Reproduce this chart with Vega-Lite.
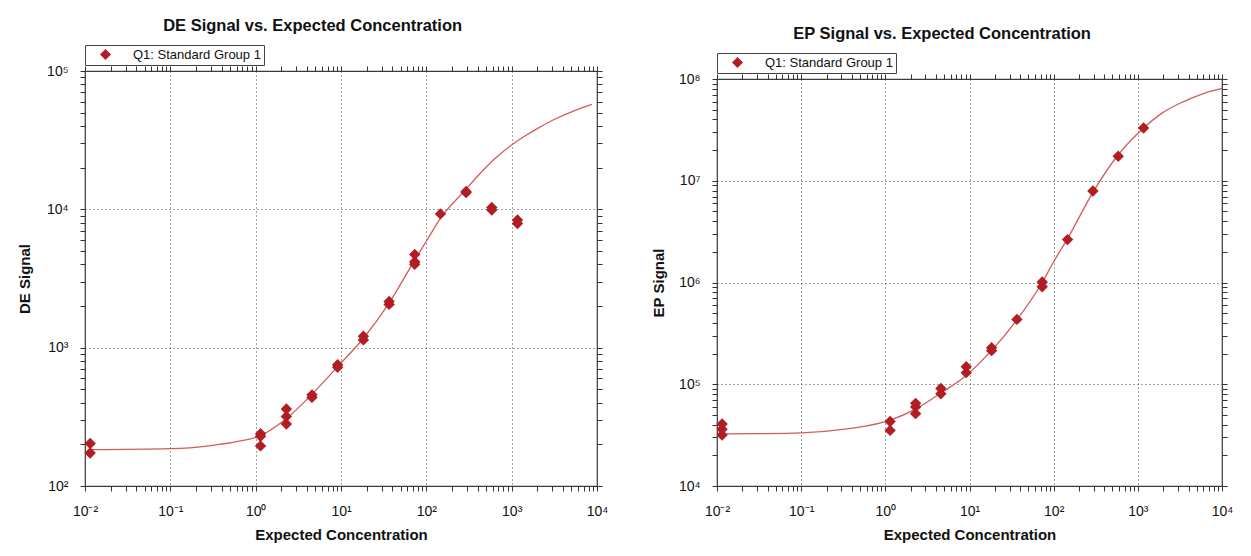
{
  "$schema": "https://vega.github.io/schema/vega-lite/v6.json",
  "background": "white",
  "padding": {"left": 16, "top": 5, "right": 0, "bottom": 0},
  "autosize": {"type": "pad"},
  "config": {
    "font": "Liberation Sans",
    "view": {"stroke": "#3a3a3a", "strokeWidth": 1.2},
    "axis": {
      "labelFont": "Liberation Sans", "labelFontSize": 14, "labelColor": "#111",
      "titleFont": "Liberation Sans", "titleFontSize": 15, "titleFontWeight": "bold", "titleColor": "#111",
      "domain": false, "tickColor": "#333", "tickWidth": 1, "tickSize": 5,
      "labelOverlap": false, "labelBound": false, "labelFlush": false,
      "gridDash": [1, 3], "gridColor": "#444", "gridWidth": 1
    },
    "legend": {
      "orient": "none", "legendX": 0, "legendY": -26, "direction": "horizontal",
      "strokeColor": "#444", "fillColor": "white", "padding": 3,
      "symbolOffset": 11, "labelOffset": 21, "labelFontSize": 13, "labelFont": "Liberation Sans",
      "labelColor": "#111", "symbolSize": 120, "symbolType": "diamond", "symbolStrokeWidth": 0
    },
    "title": {"font": "Liberation Sans", "fontSize": 16.5, "fontWeight": "bold", "color": "#111", "anchor": "middle", "frame": "bounds", "offset": 10}
  },
  "datasets": {
    "de_pts": [
      {"conc": 0.0115, "signal": 203, "group": "Q1: Standard Group 1"},
      {"conc": 0.0115, "signal": 173, "group": "Q1: Standard Group 1"},
      {"conc": 1.14, "signal": 239, "group": "Q1: Standard Group 1"},
      {"conc": 1.14, "signal": 229, "group": "Q1: Standard Group 1"},
      {"conc": 1.14, "signal": 195, "group": "Q1: Standard Group 1"},
      {"conc": 2.29, "signal": 360, "group": "Q1: Standard Group 1"},
      {"conc": 2.29, "signal": 318, "group": "Q1: Standard Group 1"},
      {"conc": 2.29, "signal": 281, "group": "Q1: Standard Group 1"},
      {"conc": 4.57, "signal": 456, "group": "Q1: Standard Group 1"},
      {"conc": 4.57, "signal": 437, "group": "Q1: Standard Group 1"},
      {"conc": 9.14, "signal": 753, "group": "Q1: Standard Group 1"},
      {"conc": 9.14, "signal": 722, "group": "Q1: Standard Group 1"},
      {"conc": 18.3, "signal": 1208, "group": "Q1: Standard Group 1"},
      {"conc": 18.3, "signal": 1138, "group": "Q1: Standard Group 1"},
      {"conc": 36.6, "signal": 2154, "group": "Q1: Standard Group 1"},
      {"conc": 36.6, "signal": 2055, "group": "Q1: Standard Group 1"},
      {"conc": 73.1, "signal": 4724, "group": "Q1: Standard Group 1"},
      {"conc": 73.1, "signal": 4175, "group": "Q1: Standard Group 1"},
      {"conc": 73.1, "signal": 4006, "group": "Q1: Standard Group 1"},
      {"conc": 146.3, "signal": 9265, "group": "Q1: Standard Group 1"},
      {"conc": 292.5, "signal": 13440, "group": "Q1: Standard Group 1"},
      {"conc": 292.5, "signal": 13200, "group": "Q1: Standard Group 1"},
      {"conc": 585, "signal": 10300, "group": "Q1: Standard Group 1"},
      {"conc": 585, "signal": 9880, "group": "Q1: Standard Group 1"},
      {"conc": 1170, "signal": 8380, "group": "Q1: Standard Group 1"},
      {"conc": 1170, "signal": 7890, "group": "Q1: Standard Group 1"}
    ],
    "de_fit": [
      {"conc": 0.0115, "signal": 183},
      {"conc": 0.1, "signal": 186},
      {"conc": 0.3, "signal": 196},
      {"conc": 0.6, "signal": 209},
      {"conc": 1.14, "signal": 231},
      {"conc": 2.29, "signal": 307},
      {"conc": 4.57, "signal": 460},
      {"conc": 9.14, "signal": 730},
      {"conc": 18.3, "signal": 1170},
      {"conc": 36.6, "signal": 2100},
      {"conc": 73.1, "signal": 4300},
      {"conc": 100, "signal": 5880},
      {"conc": 146.3, "signal": 8600},
      {"conc": 292.5, "signal": 14000},
      {"conc": 410, "signal": 17700},
      {"conc": 643, "signal": 23400},
      {"conc": 1000, "signal": 29200},
      {"conc": 1445, "signal": 34000},
      {"conc": 2070, "signal": 38800},
      {"conc": 3240, "signal": 45000},
      {"conc": 5560, "signal": 52000},
      {"conc": 8710, "signal": 57400}
    ],
    "ep_pts": [
      {"conc": 0.0115, "signal": 40700, "group": "Q1: Standard Group 1"},
      {"conc": 0.0115, "signal": 36100, "group": "Q1: Standard Group 1"},
      {"conc": 0.0115, "signal": 31700, "group": "Q1: Standard Group 1"},
      {"conc": 1.14, "signal": 43100, "group": "Q1: Standard Group 1"},
      {"conc": 1.14, "signal": 35200, "group": "Q1: Standard Group 1"},
      {"conc": 2.29, "signal": 64900, "group": "Q1: Standard Group 1"},
      {"conc": 2.29, "signal": 59900, "group": "Q1: Standard Group 1"},
      {"conc": 2.29, "signal": 51400, "group": "Q1: Standard Group 1"},
      {"conc": 4.57, "signal": 90800, "group": "Q1: Standard Group 1"},
      {"conc": 4.57, "signal": 80500, "group": "Q1: Standard Group 1"},
      {"conc": 9.14, "signal": 149000, "group": "Q1: Standard Group 1"},
      {"conc": 9.14, "signal": 130000, "group": "Q1: Standard Group 1"},
      {"conc": 18.3, "signal": 229000, "group": "Q1: Standard Group 1"},
      {"conc": 18.3, "signal": 214000, "group": "Q1: Standard Group 1"},
      {"conc": 36.6, "signal": 434000, "group": "Q1: Standard Group 1"},
      {"conc": 73.1, "signal": 1010000, "group": "Q1: Standard Group 1"},
      {"conc": 73.1, "signal": 908000, "group": "Q1: Standard Group 1"},
      {"conc": 146.3, "signal": 2640000, "group": "Q1: Standard Group 1"},
      {"conc": 292.5, "signal": 7920000, "group": "Q1: Standard Group 1"},
      {"conc": 585, "signal": 17400000, "group": "Q1: Standard Group 1"},
      {"conc": 1170, "signal": 33000000, "group": "Q1: Standard Group 1"}
    ],
    "ep_fit": [
      {"conc": 0.0115, "signal": 32500},
      {"conc": 0.03, "signal": 32700},
      {"conc": 0.1, "signal": 33300},
      {"conc": 0.37, "signal": 36600},
      {"conc": 0.6, "signal": 39000},
      {"conc": 1.14, "signal": 44500},
      {"conc": 2.29, "signal": 57000},
      {"conc": 4.57, "signal": 82000},
      {"conc": 9.14, "signal": 122000},
      {"conc": 18.3, "signal": 215000},
      {"conc": 36.6, "signal": 430000},
      {"conc": 73.1, "signal": 1000000},
      {"conc": 100, "signal": 1600000},
      {"conc": 146.3, "signal": 2700000},
      {"conc": 292.5, "signal": 7700000},
      {"conc": 585, "signal": 18000000},
      {"conc": 1170, "signal": 33000000},
      {"conc": 2000, "signal": 47000000},
      {"conc": 3500, "signal": 60000000},
      {"conc": 6000, "signal": 72000000},
      {"conc": 10000, "signal": 81000000}
    ]
  },
  "resolve": {"scale": {"x": "independent", "y": "independent", "color": "independent"}, "legend": {"color": "independent"}},
  "spacing": 41,
  "hconcat": [
    {
      "resolve": {"scale": {"x": "independent", "y": "independent", "color": "independent"}, "legend": {"color": "independent"}},
      "spacing": 0,
      "vconcat": [
        {"width": 1, "height": 1, "view": {"stroke": null}, "data": {"values": [{}]}, "mark": {"type": "text", "text": ""}},
        {
          "width": 512,
          "height": 415,
          "title": {"text": "DE Signal vs. Expected Concentration"},
          "resolve": {"axis": {"x": "independent", "y": "independent"}},
          "layer": [
            {
              "data": {"name": "de_fit"},
              "mark": {"type": "line", "color": "#D65A5A", "strokeWidth": 1.3, "interpolate": "monotone"},
              "encoding": {
                "x": {"field": "conc", "type": "quantitative", "scale": {"type": "log", "domain": [0.01, 10000]},
                      "axis": {"orient": "top", "labels": false, "grid": false, "title": null,
                               "encode": {"ticks": {"update": {"y": [{"test": "abs(log(datum.value)/LN10 - round(log(datum.value)/LN10)) < 0.01", "value": -3}, {"value": 0}], "y2": [{"test": "abs(log(datum.value)/LN10 - round(log(datum.value)/LN10)) < 0.01", "value": 6}, {"value": 4}]}}},
                               "values": [0.01,0.02,0.03,0.04,0.05,0.06,0.07,0.08,0.09,0.1,0.2,0.3,0.4,0.5,0.6,0.7,0.8,0.9,1,2,3,4,5,6,7,8,9,10,20,30,40,50,60,70,80,90,100,200,300,400,500,600,700,800,900,1000,2000,3000,4000,5000,6000,7000,8000,9000,10000]}},
                "y": {"field": "signal", "type": "quantitative", "scale": {"type": "log", "domain": [100, 100000]},
                      "axis": {"orient": "right", "labels": false, "grid": false, "title": null,
                               "encode": {"ticks": {"update": {"x": [{"test": "abs(log(datum.value)/LN10 - round(log(datum.value)/LN10)) < 0.01", "value": 3}, {"value": 0}], "x2": [{"test": "abs(log(datum.value)/LN10 - round(log(datum.value)/LN10)) < 0.01", "value": -6}, {"value": -4}]}}},
                               "values": [100,200,300,400,500,600,700,800,900,1000,2000,3000,4000,5000,6000,7000,8000,9000,10000,20000,30000,40000,50000,60000,70000,80000,90000,100000]}}
              }
            },
            {
              "data": {"name": "de_pts"},
              "mark": {"type": "point", "shape": "diamond", "filled": true, "size": 130, "opacity": 1},
              "encoding": {
                "x": {"field": "conc", "type": "quantitative", "scale": {"type": "log", "domain": [0.01, 10000]},
                      "axis": {"orient": "bottom", "title": "Expected Concentration", "titlePadding": 9, "labelPadding": 13, "grid": true,
                               "gridOpacity": {"condition": {"test": "abs(log(datum.value)/LN10 - round(log(datum.value)/LN10)) < 0.01", "value": 1}, "value": 0},
                               "encode": {"ticks": {"update": {"y": [{"test": "abs(log(datum.value)/LN10 - round(log(datum.value)/LN10)) < 0.01", "value": 3}, {"value": 0}], "y2": [{"test": "abs(log(datum.value)/LN10 - round(log(datum.value)/LN10)) < 0.01", "value": -6}, {"value": -4}]}}},
                               "labelExpr": "abs(log(datum.value)/LN10 - round(log(datum.value)/LN10)) < 0.01 ? '10' + (round(log(datum.value)/LN10) < 0 ? '⁻' : '') + ['⁰','¹','²','³','⁴','⁵','⁶','⁷','⁸','⁹'][abs(round(log(datum.value)/LN10))] : ''",
                               "values": [0.01,0.02,0.03,0.04,0.05,0.06,0.07,0.08,0.09,0.1,0.2,0.3,0.4,0.5,0.6,0.7,0.8,0.9,1,2,3,4,5,6,7,8,9,10,20,30,40,50,60,70,80,90,100,200,300,400,500,600,700,800,900,1000,2000,3000,4000,5000,6000,7000,8000,9000,10000]}},
                "y": {"field": "signal", "type": "quantitative", "scale": {"type": "log", "domain": [100, 100000]},
                      "axis": {"orient": "left", "title": "DE Signal", "titlePadding": 14, "labelPadding": 12, "grid": true,
                               "gridOpacity": {"condition": {"test": "abs(log(datum.value)/LN10 - round(log(datum.value)/LN10)) < 0.01", "value": 1}, "value": 0},
                               "encode": {"ticks": {"update": {"x": [{"test": "abs(log(datum.value)/LN10 - round(log(datum.value)/LN10)) < 0.01", "value": -3}, {"value": 0}], "x2": [{"test": "abs(log(datum.value)/LN10 - round(log(datum.value)/LN10)) < 0.01", "value": 6}, {"value": 4}]}}},
                               "labelExpr": "abs(log(datum.value)/LN10 - round(log(datum.value)/LN10)) < 0.01 ? '10' + (round(log(datum.value)/LN10) < 0 ? '⁻' : '') + ['⁰','¹','²','³','⁴','⁵','⁶','⁷','⁸','⁹'][abs(round(log(datum.value)/LN10))] : ''",
                               "values": [100,200,300,400,500,600,700,800,900,1000,2000,3000,4000,5000,6000,7000,8000,9000,10000,20000,30000,40000,50000,60000,70000,80000,90000,100000]}},
                "color": {"field": "group", "type": "nominal", "scale": {"range": ["#B01E24"]}, "legend": {"title": null}}
              }
            }
          ]
        }
      ]
    },
    {
      "resolve": {"scale": {"x": "independent", "y": "independent", "color": "independent"}, "legend": {"color": "independent"}},
      "spacing": 0,
      "vconcat": [
        {"width": 1, "height": 14, "view": {"stroke": null}, "data": {"values": [{}]}, "mark": {"type": "text", "text": ""}},
        {
          "width": 505,
          "height": 407,
          "title": {"text": "EP Signal vs. Expected Concentration"},
          "resolve": {"axis": {"x": "independent", "y": "independent"}},
          "layer": [
            {
              "data": {"name": "ep_fit"},
              "mark": {"type": "line", "color": "#D65A5A", "strokeWidth": 1.3, "interpolate": "monotone"},
              "encoding": {
                "x": {"field": "conc", "type": "quantitative", "scale": {"type": "log", "domain": [0.01, 10000]},
                      "axis": {"orient": "top", "labels": false, "grid": false, "title": null,
                               "encode": {"ticks": {"update": {"y": [{"test": "abs(log(datum.value)/LN10 - round(log(datum.value)/LN10)) < 0.01", "value": -3}, {"value": 0}], "y2": [{"test": "abs(log(datum.value)/LN10 - round(log(datum.value)/LN10)) < 0.01", "value": 6}, {"value": 4}]}}},
                               "values": [0.01,0.02,0.03,0.04,0.05,0.06,0.07,0.08,0.09,0.1,0.2,0.3,0.4,0.5,0.6,0.7,0.8,0.9,1,2,3,4,5,6,7,8,9,10,20,30,40,50,60,70,80,90,100,200,300,400,500,600,700,800,900,1000,2000,3000,4000,5000,6000,7000,8000,9000,10000]}},
                "y": {"field": "signal", "type": "quantitative", "scale": {"type": "log", "domain": [10000, 100000000]},
                      "axis": {"orient": "right", "labels": false, "grid": false, "title": null,
                               "encode": {"ticks": {"update": {"x": [{"test": "abs(log(datum.value)/LN10 - round(log(datum.value)/LN10)) < 0.01", "value": 3}, {"value": 0}], "x2": [{"test": "abs(log(datum.value)/LN10 - round(log(datum.value)/LN10)) < 0.01", "value": -6}, {"value": -4}]}}},
                               "values": [10000,20000,30000,40000,50000,60000,70000,80000,90000,100000,200000,300000,400000,500000,600000,700000,800000,900000,1000000,2000000,3000000,4000000,5000000,6000000,7000000,8000000,9000000,10000000,20000000,30000000,40000000,50000000,60000000,70000000,80000000,90000000,100000000]}}
              }
            },
            {
              "data": {"name": "ep_pts"},
              "mark": {"type": "point", "shape": "diamond", "filled": true, "size": 130, "opacity": 1},
              "encoding": {
                "x": {"field": "conc", "type": "quantitative", "scale": {"type": "log", "domain": [0.01, 10000]},
                      "axis": {"orient": "bottom", "title": "Expected Concentration", "titlePadding": 9, "labelPadding": 13, "grid": true,
                               "gridOpacity": {"condition": {"test": "abs(log(datum.value)/LN10 - round(log(datum.value)/LN10)) < 0.01", "value": 1}, "value": 0},
                               "encode": {"ticks": {"update": {"y": [{"test": "abs(log(datum.value)/LN10 - round(log(datum.value)/LN10)) < 0.01", "value": 3}, {"value": 0}], "y2": [{"test": "abs(log(datum.value)/LN10 - round(log(datum.value)/LN10)) < 0.01", "value": -6}, {"value": -4}]}}},
                               "labelExpr": "abs(log(datum.value)/LN10 - round(log(datum.value)/LN10)) < 0.01 ? '10' + (round(log(datum.value)/LN10) < 0 ? '⁻' : '') + ['⁰','¹','²','³','⁴','⁵','⁶','⁷','⁸','⁹'][abs(round(log(datum.value)/LN10))] : ''",
                               "values": [0.01,0.02,0.03,0.04,0.05,0.06,0.07,0.08,0.09,0.1,0.2,0.3,0.4,0.5,0.6,0.7,0.8,0.9,1,2,3,4,5,6,7,8,9,10,20,30,40,50,60,70,80,90,100,200,300,400,500,600,700,800,900,1000,2000,3000,4000,5000,6000,7000,8000,9000,10000]}},
                "y": {"field": "signal", "type": "quantitative", "scale": {"type": "log", "domain": [10000, 100000000]},
                      "axis": {"orient": "left", "title": "EP Signal", "titlePadding": 12, "labelPadding": 12, "grid": true,
                               "gridOpacity": {"condition": {"test": "abs(log(datum.value)/LN10 - round(log(datum.value)/LN10)) < 0.01", "value": 1}, "value": 0},
                               "encode": {"ticks": {"update": {"x": [{"test": "abs(log(datum.value)/LN10 - round(log(datum.value)/LN10)) < 0.01", "value": -3}, {"value": 0}], "x2": [{"test": "abs(log(datum.value)/LN10 - round(log(datum.value)/LN10)) < 0.01", "value": 6}, {"value": 4}]}}},
                               "labelExpr": "abs(log(datum.value)/LN10 - round(log(datum.value)/LN10)) < 0.01 ? '10' + (round(log(datum.value)/LN10) < 0 ? '⁻' : '') + ['⁰','¹','²','³','⁴','⁵','⁶','⁷','⁸','⁹'][abs(round(log(datum.value)/LN10))] : ''",
                               "values": [10000,20000,30000,40000,50000,60000,70000,80000,90000,100000,200000,300000,400000,500000,600000,700000,800000,900000,1000000,2000000,3000000,4000000,5000000,6000000,7000000,8000000,9000000,10000000,20000000,30000000,40000000,50000000,60000000,70000000,80000000,90000000,100000000]}},
                "color": {"field": "group", "type": "nominal", "scale": {"range": ["#B01E24"]}, "legend": {"title": null}}
              }
            }
          ]
        }
      ]
    }
  ]
}
